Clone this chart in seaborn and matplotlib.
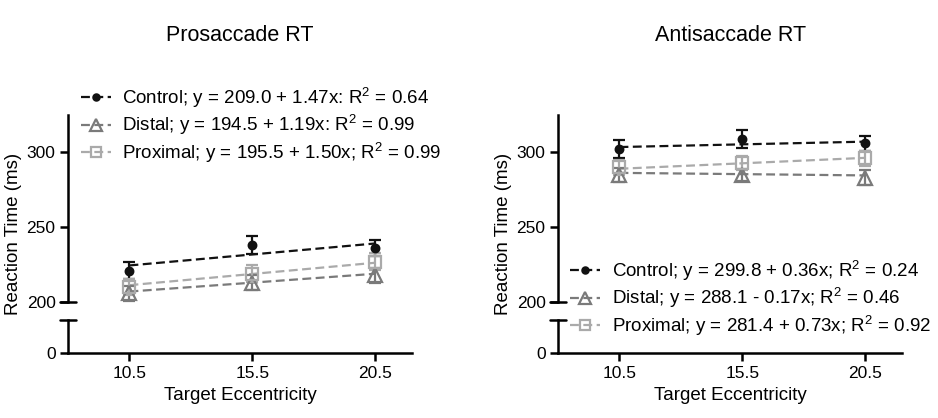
import matplotlib
matplotlib.use("Agg")
import numpy as np
import pandas as pd
import matplotlib.pyplot as plt
import seaborn as sns
from matplotlib.lines import Line2D

# Target eccentricities (deg)
ecc = [10.5, 15.5, 20.5]
groups = ["Control", "Distal", "Proximal"]

# Prosaccade RT means / SEM (ms)
pro_control = [221, 238, 236]
pro_distal = [206, 213, 218]
pro_proximal = [210, 219, 227]
pro_control_sem = [5.5, 6, 5.5]
pro_distal_sem = [5, 5, 5]
pro_proximal_sem = [5.5, 5.5, 5.5]
# regression fits: intercept, slope, R^2
pro_fits = [(209.0, 1.47, 0.64), (194.5, 1.19, 0.99), (195.5, 1.50, 0.99)]
pro_seps = [":", ":", ";"]

# Antisaccade RT means / SEM (ms)
anti_control = [302, 309, 306]
anti_distal = [285, 285, 283]
anti_proximal = [290, 293, 296]
anti_control_sem = [6, 6, 5]
anti_distal_sem = [4.5, 4, 5]
anti_proximal_sem = [5, 4.5, 5]
anti_fits = [(299.8, 0.36, 0.24), (288.1, -0.17, 0.46), (281.4, 0.73, 0.92)]
anti_seps = [";", ";", ";"]

sns.set_style("ticks")
plt.rcParams["font.family"] = ["Liberation Sans", "DejaVu Sans"]
plt.rcParams["mathtext.fontset"] = "custom"
plt.rcParams["mathtext.rm"] = "Liberation Sans"
for k in ["text.color", "axes.labelcolor", "xtick.color", "ytick.color", "axes.edgecolor"]:
    plt.rcParams[k] = "black"

colors = ["#111111", "#7a7a7a", "#aaaaaa"]
markers = ["o", "^", "s"]
msizes = [5.5, 10, 8.5]
faces = ["#111111", "none", "none"]


def label_for(name, fit, sep):
    b0, b1, r2 = fit
    sign = "+" if b1 >= 0 else "-"
    return f"{name}; y = {b0:.1f} {sign} {abs(b1):.2f}x{sep} R$^2$ = {r2:.2f}"


def panel(left, title, means, sems, fits, seps, leg_xy):
    w = 0.367
    ax_top = fig.add_axes([left, 0.2775, w, 0.4474])
    ax_bot = fig.add_axes([left, 0.1555, w, 0.0789])

    for i, g in enumerate(groups):
        fit_df = pd.DataFrame({"x": ecc, "y": [fits[i][0] + fits[i][1] * x for x in ecc]})
        sns.lineplot(data=fit_df, x="x", y="y", ax=ax_top, color=colors[i],
                     linestyle=(0, (4, 2)), linewidth=1.6, zorder=2)
        ax_top.errorbar(ecc, means[i], yerr=sems[i], fmt=markers[i], ms=msizes[i],
                        mfc=faces[i], mec=colors[i], mew=1.6, color=colors[i],
                        ecolor=colors[i], elinewidth=1.6, capsize=4.5, capthick=1.6, zorder=3)

    ax_top.set_ylim(200, 325)
    ax_top.set_yticks([200, 250, 300])
    ax_top.set_xlim(8, 22)
    ax_top.set_xticks([])
    ax_top.set_xlabel("")
    ax_top.set_ylabel("")
    for s in ["top", "right", "bottom"]:
        ax_top.spines[s].set_visible(False)

    ax_bot.set_ylim(0, 40)
    ax_bot.set_yticks([0])
    ax_bot.set_xlim(8, 22)
    ax_bot.set_xticks(ecc)
    ax_bot.set_xticklabels(["10.5", "15.5", "20.5"])
    ax_bot.set_xlabel("Target Eccentricity", fontsize=13.5, labelpad=5)
    for s in ["top", "right"]:
        ax_bot.spines[s].set_visible(False)

    for a in (ax_top, ax_bot):
        a.spines["left"].set_linewidth(1.8)
        a.spines["bottom"].set_linewidth(1.8)
        a.tick_params(width=1.8, length=6, labelsize=12.5, pad=3)
    # break caps
    ax_top.plot([-0.022, 0.022], [0, 0], transform=ax_top.transAxes, color="black",
                lw=1.8, clip_on=False)
    ax_bot.plot([-0.022, 0.022], [1, 1], transform=ax_bot.transAxes, color="black",
                lw=1.8, clip_on=False)

    fig.text(left + w / 2, 0.915, title, ha="center", va="center", fontsize=15.5)
    fig.text(left - 0.058, 0.44, "Reaction Time (ms)", rotation=90, ha="center",
             va="center", fontsize=13.5)

    handles = [Line2D([0], [0], color=colors[i], linestyle=(0, (4, 2)), lw=1.6,
                      marker=markers[i], ms=msizes[i] - 1, mfc=faces[i],
                      mec=colors[i], mew=1.6) for i in range(3)]
    labels = [label_for(g, fits[i], seps[i]) for i, g in enumerate(groups)]
    fig.legend(handles, labels, loc="upper left", bbox_to_anchor=leg_xy,
               bbox_transform=fig.transFigure, frameon=False, fontsize=13.5,
               handlelength=1.6, handletextpad=0.6, labelspacing=0.15,
               borderpad=0, borderaxespad=0)


fig = plt.figure(figsize=(9.38, 4.18), dpi=100)
panel(0.0725, "Prosaccade RT",
      [pro_control, pro_distal, pro_proximal],
      [pro_control_sem, pro_distal_sem, pro_proximal_sem],
      pro_fits, pro_seps, (0.086, 0.797))
panel(0.5949, "Antisaccade RT",
      [anti_control, anti_distal, anti_proximal],
      [anti_control_sem, anti_distal_sem, anti_proximal_sem],
      anti_fits, anti_seps, (0.608, 0.383))

fig.savefig("out.png", dpi=100)
